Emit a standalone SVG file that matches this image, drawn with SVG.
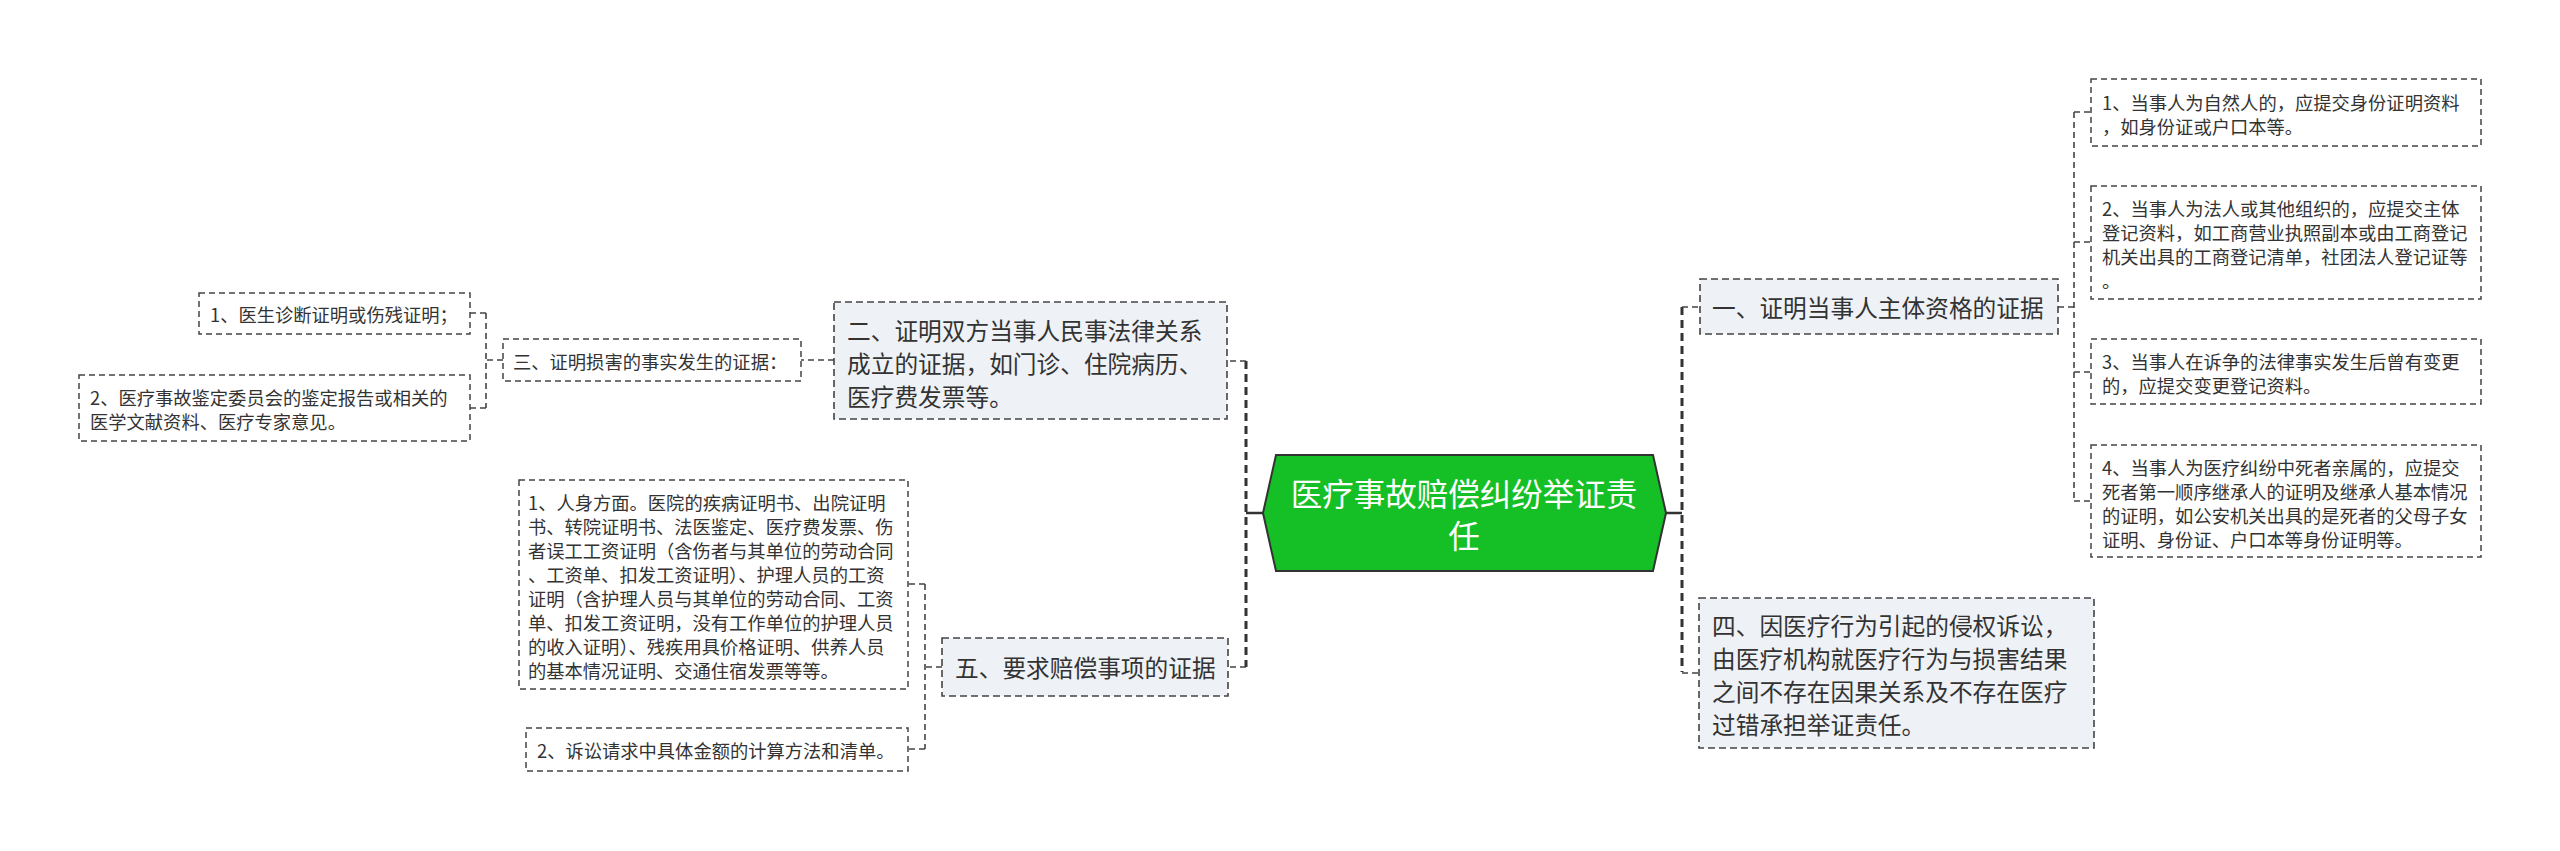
<svg xmlns="http://www.w3.org/2000/svg" width="2560" height="851" viewBox="0 0 2560 851">
<style>
text{font-family:"Noto Sans CJK SC","Noto Sans",sans-serif;fill:#333;dominant-baseline:central}
.t1{font-size:23.7px}
.t2{font-size:18.3px}
.tc{font-size:31.5px;fill:#fff;text-anchor:middle}
.n1{fill:#eef1f5;stroke:#444;stroke-width:1.6;stroke-dasharray:7 4}
.n2{fill:#fff;stroke:#444;stroke-width:1.5;stroke-dasharray:6 4}
.trunk{fill:none;stroke:#333;stroke-width:3;stroke-dasharray:8 5}
.br{fill:none;stroke:#444;stroke-width:1.6;stroke-dasharray:6 4}
.solid{fill:none;stroke:#333;stroke-width:2.5}
</style>
<rect width="2560" height="851" fill="#fff"/>
<g id="connectors">
  <path class="solid" d="M1263 513H1246M1666 513H1682"/>
  <path class="trunk" d="M1246 361V667"/>
  <path class="trunk" d="M1682 307V672"/>
  <path class="br" d="M1246 361H1227M1246 667H1228"/>
  <path class="br" d="M1682 307H1700M1682 673H1699"/>
  <path class="br" d="M2058 307H2074M2074 112V501M2074 112H2091M2074 242H2091M2074 372H2091M2074 501H2091"/>
  <path class="br" d="M834 360H801"/>
  <path class="br" d="M503 360H486M486 313V408M486 313H470M486 408H470"/>
  <path class="br" d="M942 667H925M925 584V749M925 584H908M925 749H908"/>
</g>
<g id="center">
  <polygon points="1263,513 1276,455 1653,455 1666,513 1653,571 1276,571" fill="#15c026" stroke="#333" stroke-width="2"/>
  <text class="tc" x="1464" y="492">医疗事故赔偿纠纷举证责</text>
  <text class="tc" x="1464" y="534">任</text>
</g>
<g id="node1">
  <rect class="n1" x="1700" y="279" width="358" height="55"/>
  <text class="t1" x="1712" y="307">一、证明当事人主体资格的证据</text>
</g>
<g id="node1-1">
  <rect class="n2" x="2091" y="79" width="390" height="67"/>
  <text class="t2" x="2102" y="102">1、当事人为自然人的，应提交身份证明资料</text>
  <text class="t2" x="2102" y="126">，如身份证或户口本等。</text>
</g>
<g id="node1-2">
  <rect class="n2" x="2091" y="186" width="390" height="113"/>
  <text class="t2" x="2102" y="208">2、当事人为法人或其他组织的，应提交主体</text>
  <text class="t2" x="2102" y="232">登记资料，如工商营业执照副本或由工商登记</text>
  <text class="t2" x="2102" y="256">机关出具的工商登记清单，社团法人登记证等</text>
  <text class="t2" x="2102" y="280">。</text>
</g>
<g id="node1-3">
  <rect class="n2" x="2091" y="339" width="390" height="65"/>
  <text class="t2" x="2102" y="361">3、当事人在诉争的法律事实发生后曾有变更</text>
  <text class="t2" x="2102" y="385">的，应提交变更登记资料。</text>
</g>
<g id="node1-4">
  <rect class="n2" x="2091" y="445" width="390" height="112"/>
  <text class="t2" x="2102" y="467">4、当事人为医疗纠纷中死者亲属的，应提交</text>
  <text class="t2" x="2102" y="491">死者第一顺序继承人的证明及继承人基本情况</text>
  <text class="t2" x="2102" y="515">的证明，如公安机关出具的是死者的父母子女</text>
  <text class="t2" x="2102" y="539">证明、身份证、户口本等身份证明等。</text>
</g>
<g id="node4">
  <rect class="n1" x="1699" y="598" width="395" height="150"/>
  <text class="t1" x="1712" y="625">四、因医疗行为引起的侵权诉讼，</text>
  <text class="t1" x="1712" y="658">由医疗机构就医疗行为与损害结果</text>
  <text class="t1" x="1712" y="691">之间不存在因果关系及不存在医疗</text>
  <text class="t1" x="1712" y="724">过错承担举证责任。</text>
</g>
<g id="node2">
  <rect class="n1" x="834" y="302" width="393" height="117"/>
  <text class="t1" x="847" y="330">二、证明双方当事人民事法律关系</text>
  <text class="t1" x="847" y="363">成立的证据，如门诊、住院病历、</text>
  <text class="t1" x="847" y="396">医疗费发票等。</text>
</g>
<g id="node3">
  <rect class="n2" x="503" y="339" width="298" height="42"/>
  <text class="t2" x="513" y="361">三、证明损害的事实发生的证据：</text>
</g>
<g id="node3-1">
  <rect class="n2" x="199" y="293" width="271" height="41"/>
  <text class="t2" x="210" y="314">1、医生诊断证明或伤残证明；</text>
</g>
<g id="node3-2">
  <rect class="n2" x="79" y="375" width="391" height="66"/>
  <text class="t2" x="90" y="397">2、医疗事故鉴定委员会的鉴定报告或相关的</text>
  <text class="t2" x="90" y="421">医学文献资料、医疗专家意见。</text>
</g>
<g id="node5">
  <rect class="n1" x="942" y="638" width="286" height="58"/>
  <text class="t1" x="955" y="667">五、要求赔偿事项的证据</text>
</g>
<g id="node5-1">
  <rect class="n2" x="519" y="480" width="389" height="209"/>
  <text class="t2" x="528" y="502">1、人身方面。医院的疾病证明书、出院证明</text>
  <text class="t2" x="528" y="526">书、转院证明书、法医鉴定、医疗费发票、伤</text>
  <text class="t2" x="528" y="550">者误工工资证明（含伤者与其单位的劳动合同</text>
  <text class="t2" x="528" y="574">、工资单、扣发工资证明）、护理人员的工资</text>
  <text class="t2" x="528" y="598">证明（含护理人员与其单位的劳动合同、工资</text>
  <text class="t2" x="528" y="622">单、扣发工资证明，没有工作单位的护理人员</text>
  <text class="t2" x="528" y="646">的收入证明）、残疾用具价格证明、供养人员</text>
  <text class="t2" x="528" y="670">的基本情况证明、交通住宿发票等等。</text>
</g>
<g id="node5-2">
  <rect class="n2" x="526" y="728" width="382" height="43"/>
  <text class="t2" x="537" y="750">2、诉讼请求中具体金额的计算方法和清单。</text>
</g>
</svg>
